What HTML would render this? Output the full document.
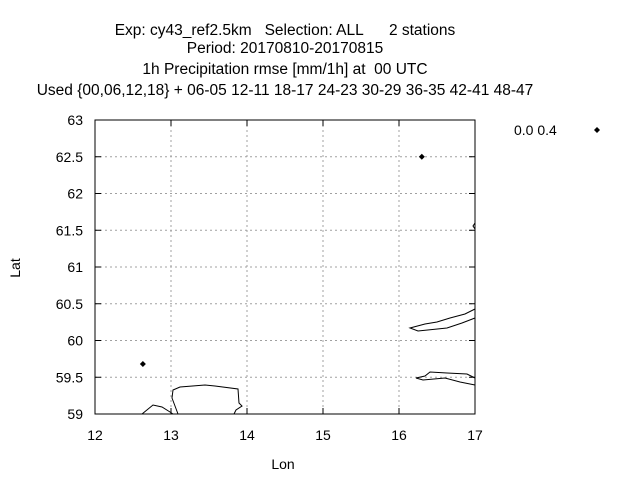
<!DOCTYPE html>
<html><head><meta charset="utf-8"><style>body{margin:0;background:#fff}text{font-family:"Liberation Sans",sans-serif;font-size:14px;white-space:pre}.tt{font-size:15.5px}</style></head>
<body>
<svg width="640" height="480" xmlns="http://www.w3.org/2000/svg">
<g id="titles" text-anchor="middle">
<text class="tt" x="285" y="35">Exp: cy43_ref2.5km   Selection: ALL      2 stations</text>
<text class="tt" x="285" y="53">Period: 20170810-20170815</text>
<text class="tt" x="285" y="74">1h Precipitation rmse [mm/1h] at  00 UTC</text>
<text class="tt" x="285" y="95">Used {00,06,12,18} + 06-05 12-11 18-17 24-23 30-29 36-35 42-41 48-47</text>
</g>
<g id="grid"></g>
<g id="axes"></g>
<g id="coast" fill="none" stroke="#000" stroke-width="1"></g>
<g id="pts"></g>
<text x="283" y="469" text-anchor="middle">Lon</text>
<text x="20" y="268" text-anchor="middle" transform="rotate(-90 20 268)">Lat</text>
<text x="514" y="135">0.0 0.4</text>
<path d="M597 127 l3 3 l-3 3 l-3 -3z" fill="#000"/>
</svg>
<script>
const xTicks=[12,13,14,15,16,17];
const yTicks=[59,59.5,60,60.5,61,61.5,62,62.5,63];
const stLon=[12.63,16.3];
const stLat=[59.68,62.5];
const X0=95,X1=475,Y0=414,Y1=120;
const sx=v=>X0+(v-12)/5*(X1-X0);
const sy=v=>Y0-(v-59)/4*(Y0-Y1);
const NS="http://www.w3.org/2000/svg";
function mk(t,a,p){const e=document.createElementNS(NS,t);for(const k in a)e.setAttribute(k,a[k]);document.getElementById(p).appendChild(e);return e;}
xTicks.forEach((v,i)=>{const x=sx(v);
 if(i>0&&i<xTicks.length-1){const l=mk('line',{x1:x,x2:x,y1:Y1,y2:Y0,stroke:'#a0a0a0','stroke-dasharray':'2,3'},'grid');
 
 }
 mk('line',{x1:x,x2:x,y1:Y0,y2:Y0-6,stroke:'#000'},'axes');mk('line',{x1:x,x2:x,y1:Y1,y2:Y1+6,stroke:'#000'},'axes');
 const t=mk('text',{x:x,y:440,'text-anchor':'middle'},'axes');t.textContent=v;
 
 });
yTicks.forEach((v,i)=>{const y=sy(v);
 if(i>0&&i<yTicks.length-1){const l=mk('line',{x1:X0,x2:X1,y1:y,y2:y,stroke:'#a0a0a0','stroke-dasharray':'2,3'},'grid');
 
 }
 mk('line',{x1:X0,x2:X0+6,y1:y,y2:y,stroke:'#000'},'axes');mk('line',{x1:X1,x2:X1-6,y1:y,y2:y,stroke:'#000'},'axes');
 const t=mk('text',{x:X0-12,y:y+5,'text-anchor':'end'},'axes');t.textContent=v;
 
 });
const fr=mk('rect',{x:X0,y:Y1,width:X1-X0,height:Y0-Y1,fill:'none',stroke:'#000'},'axes');


["M142 414L153 405L162 407L170 412L173 414",
 "M178 414L172 398L173 390L180 387L205 385L215 386L238 389L239 403L242 406L236 410L234 414",
 "M475 309L465 314L450 318L437 322L425 324L410 328L418 331L447 328L462 323L475 318",
 "M475 378L467 374L447 373L430 372L425 376L416 378L423 380L445 378L460 382L475 385",
 "M475 223L473 226L475 229"].forEach(d=>{const p=mk('path',{d:d},'coast');
 
 });
stLon.forEach((lo,i)=>{const x=sx(lo),y=sy(stLat[i]);
 const p=mk('path',{d:`M${x} ${y-3}l3 3l-3 3l-3 -3z`,fill:'#000'},'pts');
 
 });
</script>
</body></html>
